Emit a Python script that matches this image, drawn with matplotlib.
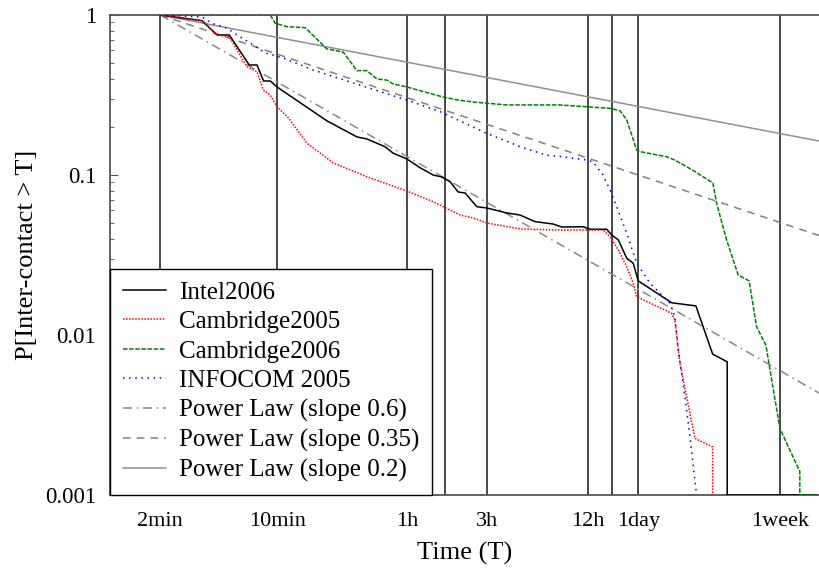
import numpy as np
import matplotlib
matplotlib.use("Agg")
import matplotlib.pyplot as plt

plt.rcParams["font.family"] = ["Liberation Serif", "DejaVu Serif"]

# time in seconds, P[inter-contact > T]
intel_t = [120, 213, 262, 310, 408, 454, 497, 545, 598, 823, 1189, 1796, 2061, 2650,
           2955, 3572, 4287, 5126, 5784, 6475, 7235, 7966, 9350, 10740, 14140, 16980,
           20860, 26740, 30150, 40550, 44470, 55900, 59900, 65640, 73700, 80580, 86350,
           136800, 191000, 240500, 293900, 293900, 1e6]
intel_p = [1, 0.921, 0.75, 0.75, 0.487, 0.487, 0.387, 0.387, 0.355, 0.283, 0.218, 0.173,
           0.168, 0.150, 0.137, 0.126, 0.111, 0.1, 0.0972, 0.0908, 0.0783, 0.0772, 0.0634,
           0.0622, 0.0579, 0.0562, 0.0511, 0.0494, 0.0473, 0.0475, 0.0458, 0.0458, 0.0422,
           0.0393, 0.0302, 0.0281, 0.0218, 0.0159, 0.0152, 0.0076, 0.0068, 0.001, 0.001]

cam05_t = [120, 213, 262, 310, 345, 395, 454, 495, 545, 598, 701, 903, 1297, 2061, 3572,
           5126, 7433, 8892, 10740, 16980, 29400, 53360, 58560, 65640, 73700, 80580, 84560,
           136800, 143000, 153300, 168000, 188400, 240500, 240500]
cam05_p = [1, 0.921, 0.75, 0.732, 0.604, 0.475, 0.442, 0.340, 0.316, 0.267, 0.227, 0.158,
           0.119, 0.0976, 0.0794, 0.0681, 0.0562, 0.0539, 0.0501, 0.046, 0.0453, 0.0453,
           0.0411, 0.034, 0.0267, 0.0211, 0.01735, 0.01367, 0.0124, 0.00668, 0.00412,
           0.00226, 0.002, 0.001]

cam06_t = [120, 545, 584, 686, 882, 1189, 1487, 1796, 2061, 2364, 2712, 2955, 3572, 5886,
           7235, 8892, 14140, 29400, 58560, 67200, 73700, 84560, 88400, 127700, 143000,
           183400, 241300, 253900, 291500, 341900, 397400, 440300, 500300, 607000, 798600,
           798600, 1e6]
cam06_p = [1, 1, 0.887, 0.845, 0.833, 0.613, 0.587, 0.449, 0.449, 0.398, 0.392, 0.371,
           0.355, 0.307, 0.294, 0.286, 0.274, 0.274, 0.261, 0.252, 0.221, 0.143, 0.140,
           0.130, 0.124, 0.107, 0.0891, 0.0668, 0.0393, 0.0237, 0.0218, 0.01127, 0.00866,
           0.00261, 0.0014, 0.001, 0.001]

info_t = [120, 213, 244, 300, 345, 414, 509, 651, 984, 1707, 3572, 5647, 10740, 17680,
          24500, 30650, 42480, 46300, 53150, 58560, 64200, 73700, 84560, 101500, 133600,
          143000, 149800, 164200, 176000, 192800]
info_p = [1, 0.972, 0.887, 0.829, 0.75, 0.668, 0.579, 0.539, 0.453, 0.376, 0.294, 0.249,
          0.182, 0.148, 0.133, 0.130, 0.124, 0.121, 0.1, 0.0806, 0.0634, 0.0432, 0.0281,
          0.0211, 0.0158, 0.013, 0.00806, 0.00412, 0.00231, 0.001]

slopes = [0.6, 0.35, 0.2]
law_t0 = 120

tick_pos = [120, 600, 3600, 10800, 43200, 86400, 604800]
tick_lab = ["2min", "10min", "1h", "3h", "12h", "1day", "1week"]
vline_pos = [120, 600, 3600, 6000, 10800, 43200, 60000, 86400, 604800]

fig = plt.figure(figsize=(8.19, 5.70), dpi=100)
ax = fig.add_axes([110 / 819, 75 / 570, 709 / 819, 480 / 570])

for x in vline_pos:
    ax.axvline(x, color="#3a3a3a", lw=1.3, zorder=1)

ax.plot(intel_t, intel_p, color="black", lw=1.1, label="Intel2006", zorder=3)
ax.plot(cam05_t, cam05_p, color="red", lw=1.1, ls=(0, (1, 1)), label="Cambridge2005", zorder=3)
ax.plot(cam06_t, cam06_p, color="#008000", lw=1.1, ls=(0, (3, 1)), label="Cambridge2006", zorder=3)
ax.plot(info_t, info_p, color="blue", lw=1.1, ls=(0, (1, 3)), label="INFOCOM 2005", zorder=3)

law_x = np.array([law_t0, 1.1e6])
law_styles = [(0, (6, 3, 1, 3)), (0, (5, 4)), "-"]
law_colors = ["#888888", "#808080", "#909090"]
for s, st, c in zip(slopes, law_styles, law_colors):
    ax.plot(law_x, (law_x / law_t0) ** (-s), color=c, lw=1.1, ls=st,
            label=f"Power Law (slope {s})", zorder=2)

ax.set_xscale("log")
ax.set_yscale("log")
ax.set_xlim(60, 1.04e6)
ax.set_ylim(0.001, 1)

ax.set_xticks(tick_pos)
ax.set_xticklabels(tick_lab)
ax.xaxis.set_minor_locator(matplotlib.ticker.NullLocator())
ax.tick_params(axis="x", length=0, pad=12, labelsize=16)

ax.set_yticks([0.001, 0.01, 0.1, 1])
ax.set_yticklabels(["0.001", "0.01", "0.1", "1"])
ax.tick_params(axis="y", which="major", direction="in", length=6, pad=10, labelsize=16.5,
               color="#555555")
ax.tick_params(axis="y", which="minor", direction="in", length=3, color="#555555")

for side in ["left", "top", "bottom"]:
    ax.spines[side].set_color("#555555")
    ax.spines[side].set_linewidth(1.3)
ax.spines["right"].set_visible(False)

ax.set_xlabel("Time (T)", fontsize=19, labelpad=8)
ax.set_ylabel("P[Inter-contact > T]", fontsize=19, labelpad=5)

leg = ax.legend(loc="lower left", borderaxespad=0, fancybox=False, fontsize=18,
                handlelength=1.75, handletextpad=0.5, labelspacing=0.28, borderpad=0.5,
                framealpha=1)
leg.get_frame().set_edgecolor("black")
leg.get_frame().set_linewidth(1.0)
leg.set_zorder(5)

fig.savefig("out.png", dpi=100)
